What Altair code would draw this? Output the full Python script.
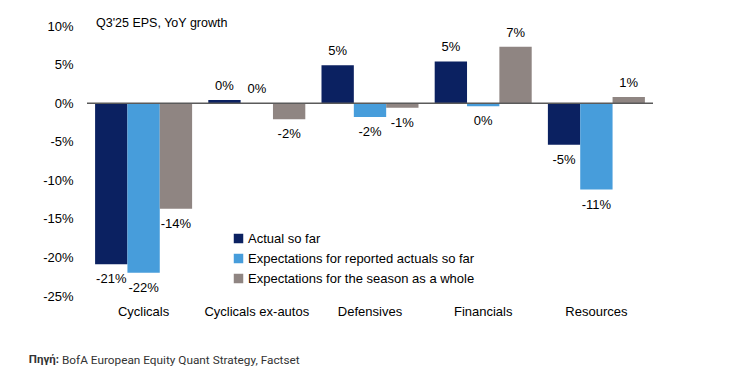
import altair as alt
import pandas as pd

categories = ["Cyclicals", "Cyclicals ex-autos", "Defensives", "Financials", "Resources"]
series = ["Actual so far", "Expectations for reported actuals so far",
          "Expectations for the season as a whole"]
actual = [-20.9, 0.4, 4.9, 5.4, -5.4]
exp_reported = [-22.0, 0.0, -1.8, -0.4, -11.2]
exp_season = [-13.7, -2.1, -0.6, 7.3, 0.8]
colors = ["#0B2161", "#479DDB", "#8F8582"]
y_ticks = [10, 5, 0, -5, -10, -15, -20, -25]
title_text = "Q3'25 EPS, YoY growth"
source_bold = "Πηγή:"
source_rest = "BofA European Equity Quant Strategy, Factset"

rows = []
for s, vals in zip(series, [actual, exp_reported, exp_season]):
    for c, v in zip(categories, vals):
        rows.append({"category": c, "series": s, "value": v,
                     "label": f"{int(round(v))}%", "above": v >= 0})
df = pd.DataFrame(rows)

FONT = "Liberation Sans"

x_enc = alt.X("category:N", sort=categories,
              scale=alt.Scale(paddingInner=0.143, paddingOuter=0.0715),
              axis=alt.Axis(title=None, labelAngle=0, domain=False, ticks=False,
                            labelFontSize=13, labelPadding=9, labelColor="#000",
                            labelFont=FONT))
xo_enc = alt.XOffset("series:N", sort=series,
                     scale=alt.Scale(paddingInner=0, paddingOuter=0))
y_axis = alt.Axis(values=y_ticks, labelExpr="datum.value + '%'", title=None,
                  grid=False, domain=False, ticks=False, labelPadding=14,
                  labelFontSize=13, labelColor="#000", labelFont=FONT,
                  labelOverlap=False)
y_scale = alt.Scale(domain=[-25, 10], nice=False)
y_enc = alt.Y("value:Q", scale=y_scale, axis=y_axis)

base = alt.Chart(df)

bars = base.mark_bar().encode(
    x=x_enc, xOffset=xo_enc, y=y_enc,
    color=alt.Color("series:N", sort=series,
                    scale=alt.Scale(domain=series, range=colors),
                    legend=alt.Legend(title=None, orient="none", legendX=145, legendY=206,
                                      symbolType="square", symbolSize=90,
                                      labelFontSize=13, labelFont=FONT, labelColor="#000",
                                      rowPadding=6, labelOffset=3, symbolStrokeWidth=0,
                                      padding=0, labelLimit=400)),
)

zero = alt.Chart(pd.DataFrame({"value": [0]})).mark_rule(
    color="#5a5a5a", strokeWidth=1.5).encode(y=y_enc)

lab_pos = base.transform_filter("datum.above").mark_text(
    baseline="alphabetic", dy=-10, fontSize=13, font=FONT, color="#000").encode(
    x=x_enc, xOffset=xo_enc, y=y_enc, text="label:N")
lab_neg = base.transform_filter("!datum.above").mark_text(
    baseline="top", dy=9, fontSize=13, font=FONT, color="#000").encode(
    x=x_enc, xOffset=xo_enc, y=y_enc, text="label:N")

title = alt.Chart(pd.DataFrame({"t": [title_text]})).mark_text(
    align="left", baseline="middle", fontSize=12.5, font=FONT, color="#000").encode(
    x=alt.value(9), y=alt.value(-3), text="t:N")

src1 = alt.Chart(pd.DataFrame({"t": [source_bold]})).mark_text(
    align="right", baseline="middle", fontSize=11.5, font="Roboto", fontWeight="bold",
    color="#333").encode(x=alt.value(-28), y=alt.value(334), text="t:N")
src2 = alt.Chart(pd.DataFrame({"t": [source_rest]})).mark_text(
    align="left", baseline="middle", fontSize=11.8, font="Roboto", color="#333").encode(
    x=alt.value(-25), y=alt.value(334), text="t:N")

chart = alt.layer(bars, zero, lab_pos, lab_neg, title, src1, src2).properties(
    width=566, height=270,
    autosize=alt.AutoSizeParams(type="none"),
    padding={"left": 79, "top": 18, "right": 73, "bottom": 80},
).configure(font=FONT).configure_view(stroke=None)

chart.save("out.html", embed_options={"renderer": "svg", "actions": False})
